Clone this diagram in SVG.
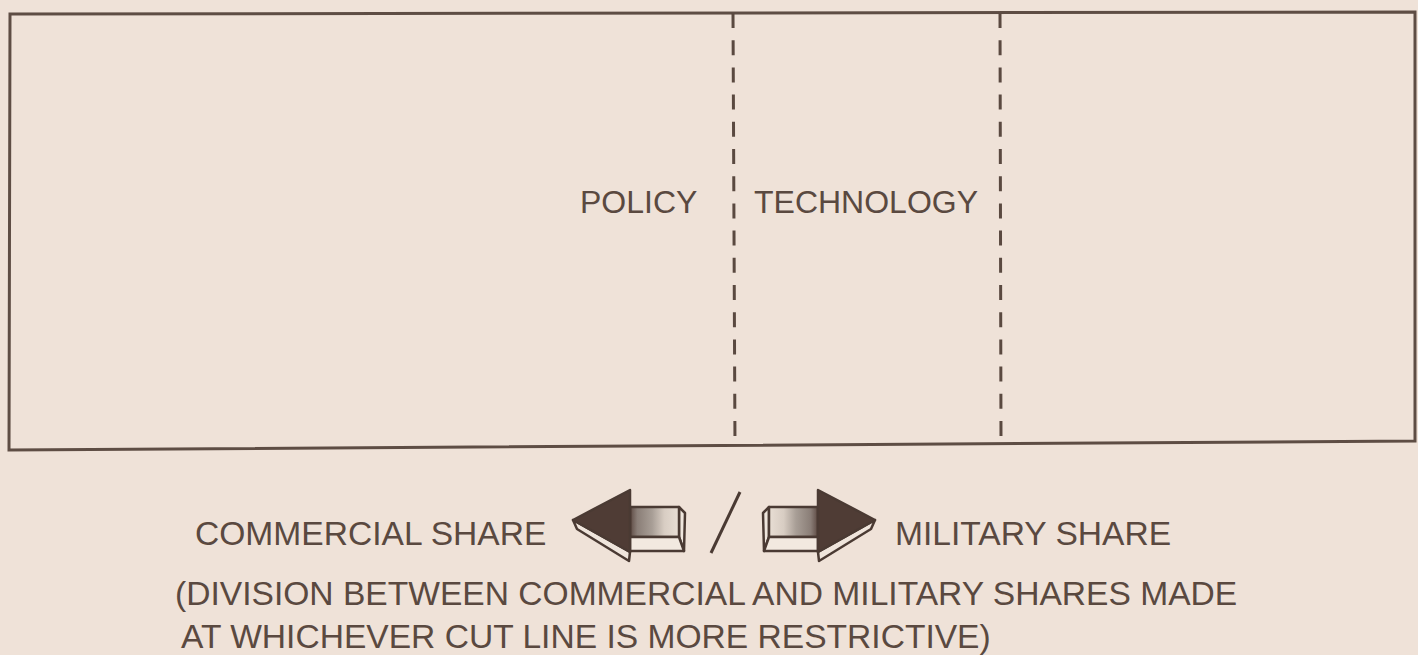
<svg xmlns="http://www.w3.org/2000/svg" width="1418" height="655" viewBox="0 0 1418 655">
  <defs>
    <style>
      .ink { fill: #5a4940; }
      .txt { font-family: "Liberation Sans", Arial, Helvetica, sans-serif; fill: #5a4940; }
      .frame { fill: none; stroke: #5e4d44; stroke-width: 3; stroke-linejoin: miter; }
      .cut { fill: none; stroke: #5a4940; stroke-width: 3; stroke-dasharray: 15 12.2; }
      .edge { stroke: #4a3a33; stroke-width: 2.5; stroke-linejoin: round; }
    </style>
    <linearGradient id="shaftFace" x1="0" y1="0" x2="1" y2="0">
      <stop offset="0" stop-color="#e8ded4"/>
      <stop offset="0.3" stop-color="#d8cdc3"/>
      <stop offset="0.55" stop-color="#a89e96"/>
      <stop offset="0.85" stop-color="#8a7e77"/>
      <stop offset="1" stop-color="#5d4a43"/>
    </linearGradient>
    <!-- 3D block arrow pointing right -->
    <g id="blockArrow">
      <!-- shaft end face -->
      <polygon class="edge" fill="#efe6dd" points="763,513 769,507 769,537 764,551"/>
      <!-- shaft top face -->
      <polygon class="edge" fill="url(#shaftFace)" points="769,507 818,507 818,537 769,537"/>
      <!-- shaft thickness -->
      <polygon class="edge" fill="#f2e9e0" points="769,537 818,537 818,551 764,551"/>
      <!-- head bevel -->
      <polygon class="edge" fill="#efe5dc" points="875,520 818,552 819,561 871,529"/>
      <!-- head -->
      <polygon class="edge" fill="#4f3c35" points="818,490 875,520 818,552"/>
    </g>
  </defs>

  <rect width="1418" height="655" fill="#efe2d8"/>

  <!-- outer frame -->
  <g id="frame">
    <polygon class="frame" points="10,14 1415,12 1415,441 9,450"/>
  </g>

  <!-- cut lines -->
  <g id="cut-lines">
    <line class="cut" x1="733" y1="13" x2="735" y2="448"/>
    <line class="cut" x1="1000" y1="13" x2="1001" y2="444"/>
  </g>

  <g id="policy">
    <text class="txt" x="580" y="213" font-size="32">POLICY</text>
  </g>
  <g id="technology">
    <text class="txt" x="754" y="213" font-size="32">TECHNOLOGY</text>
  </g>

  <!-- legend -->
  <g id="legend">
    <text class="txt" x="195" y="545" font-size="33.6">COMMERCIAL SHARE</text>
    <use href="#blockArrow" transform="translate(1448,0) scale(-1,1)"/>
    <line x1="740" y1="492" x2="711" y2="553" stroke="#4a3a33" stroke-width="3"/>
    <use href="#blockArrow"/>
    <text class="txt" x="895" y="545" font-size="33.6">MILITARY SHARE</text>
  </g>

  <g id="note">
    <text class="txt" x="175" y="605" font-size="33.6">(DIVISION BETWEEN COMMERCIAL AND MILITARY SHARES MADE</text>
    <text class="txt" x="181" y="648" font-size="33.6">AT WHICHEVER CUT LINE IS MORE RESTRICTIVE)</text>
  </g>
</svg>
